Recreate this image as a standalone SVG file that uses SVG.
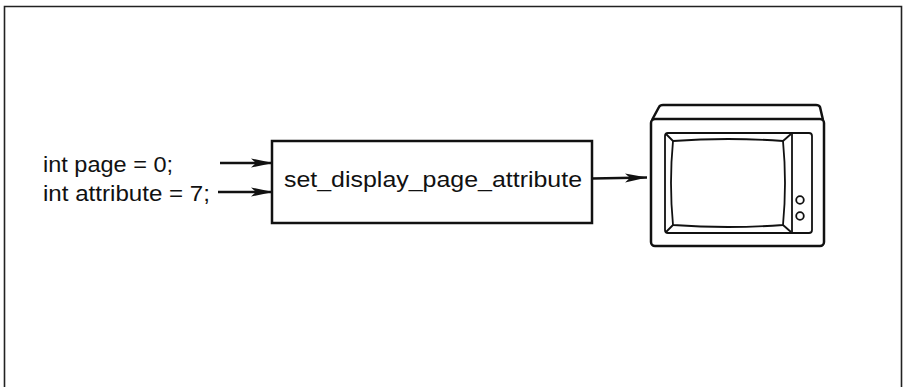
<svg xmlns="http://www.w3.org/2000/svg" width="906" height="387" viewBox="0 0 906 387">
  <defs>
    <marker id="arrow" markerWidth="24" markerHeight="12" refX="22" refY="6" orient="auto" markerUnits="userSpaceOnUse">
      <path d="M0,1.5 L22,6 L0,10.5 L5,6 Z" fill="#111"/>
    </marker>
    <style>
      .lbl { font-family: "Liberation Sans", Arial, sans-serif; font-size: 22px; fill: #111; }
      .edge { stroke: #111; stroke-width: 2.4; fill: none; }
      .box { fill: #fff; stroke: #111; stroke-width: 2.5; }
      .tv { fill: none; stroke: #111; stroke-width: 2.5; stroke-linejoin: round; }
      .tvthin { fill: none; stroke: #111; stroke-width: 1.8; stroke-linejoin: round; }
    </style>
  </defs>

  <rect width="906" height="387" fill="#fff"/>

  <!-- outer frame, open at the bottom -->
  <path d="M4.5,390 V6.5 H901.5 V390" fill="none" stroke="#222" stroke-width="1.6"/>

  <g id="inputs">
    <text class="lbl" x="43" y="172" textLength="130" lengthAdjust="spacingAndGlyphs">int page = 0;</text>
    <text class="lbl" x="43" y="201" textLength="167" lengthAdjust="spacingAndGlyphs">int attribute = 7;</text>
  </g>

  <g id="connectors">
    <line class="edge" x1="220" y1="163" x2="273" y2="163" marker-end="url(#arrow)"/>
    <line class="edge" x1="218" y1="192" x2="273" y2="192" marker-end="url(#arrow)"/>
    <line class="edge" x1="592" y1="178.5" x2="647" y2="177.5" marker-end="url(#arrow)"/>
  </g>

  <g id="function">
    <rect class="box" x="272" y="141" width="320" height="82"/>
    <text class="lbl" x="284" y="187" textLength="298" lengthAdjust="spacingAndGlyphs">set_display_page_attribute</text>
  </g>

  <g id="monitor">
    <!-- cabinet top -->
    <path class="tv" d="M652,120 L659,107 Q660,105 663,105 H816 Q819,105 820,107 L823,120"/>
    <!-- cabinet body -->
    <rect class="tv" x="651" y="119" width="173" height="127" rx="4"/>
    <!-- front bezel -->
    <rect class="tvthin" x="665" y="133" width="147" height="100" rx="3"/>
    <line class="tvthin" x1="792" y1="133" x2="792" y2="233"/>
    <!-- screen -->
    <path class="tvthin" d="M673,141 Q728,137 783,141 Q787,183 783,225 Q728,229 673,225 Q669,183 673,141 Z"/>
    <!-- bevel corners -->
    <line class="tvthin" x1="666" y1="134" x2="673" y2="141"/>
    <line class="tvthin" x1="791" y1="134" x2="783" y2="141"/>
    <line class="tvthin" x1="666" y1="232" x2="673" y2="225"/>
    <line class="tvthin" x1="791" y1="232" x2="783" y2="225"/>
    <!-- knobs -->
    <circle class="tvthin" cx="800" cy="200" r="3.8"/>
    <circle class="tvthin" cx="800" cy="216" r="3.8"/>
  </g>
</svg>
